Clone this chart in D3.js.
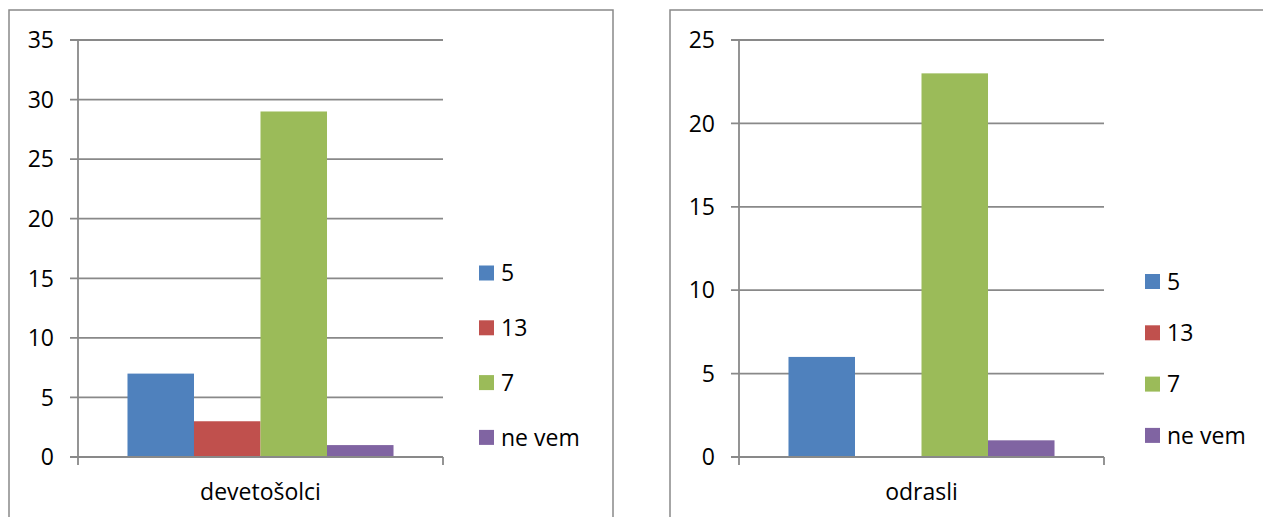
<!DOCTYPE html>
<html>
<head>
<meta charset="utf-8">
<script src="https://d3js.org/d3.v7.min.js"></script>
<style>
  body { margin: 0; background: #fff; }
  text { font-family: "Open Sans", sans-serif; fill: #000; }
</style>
</head>
<body>
<svg width="1263" height="517"></svg>
<script>
// series names (legend) and colours
var series = ["5", "13", "7", "ne vem"];
var colors = ["#4F81BD", "#C0504D", "#9BBB59", "#8064A2"];

// left chart
var leftCategory = "devetošolci";
var leftValues = [7, 3, 29, 1];
var leftTicks = [0, 5, 10, 15, 20, 25, 30, 35];

// right chart
var rightCategory = "odrasli";
var rightValues = [6, 0, 23, 1];
var rightTicks = [0, 5, 10, 15, 20, 25];

var svg = d3.select("svg");
var grey = "#898989";
var fs = "23px";

function drawPanel(opt) {
  var g = svg.append("g");

  // outer frame (bottom/right may run off the page)
  g.append("rect")
    .attr("x", opt.frame[0]).attr("y", opt.frame[1])
    .attr("width", opt.frame[2]).attr("height", opt.frame[3])
    .attr("fill", "none").attr("stroke", grey).attr("stroke-width", 1.5);

  var y = d3.scaleLinear().domain([0, d3.max(opt.ticks)]).range([opt.y1, opt.y0]);
  var x = d3.scaleBand().domain([opt.category]).range([opt.x0, opt.x1]).paddingOuter(0.186);
  var xs = d3.scaleBand().domain(series).range([0, x.bandwidth()]);

  // gridlines
  g.selectAll(".grid").data(opt.ticks).join("line")
    .attr("x1", opt.x0 - 8).attr("x2", opt.x1)
    .attr("y1", d => y(d)).attr("y2", d => y(d))
    .attr("stroke", grey).attr("stroke-width", 1.8);

  // y axis line
  g.append("line")
    .attr("x1", opt.x0).attr("x2", opt.x0)
    .attr("y1", opt.y0).attr("y2", opt.y1 + 8)
    .attr("stroke", grey).attr("stroke-width", 1.8);
  // right category tick
  g.append("line")
    .attr("x1", opt.x1).attr("x2", opt.x1)
    .attr("y1", opt.y1).attr("y2", opt.y1 + 8)
    .attr("stroke", grey).attr("stroke-width", 1.8);

  // y tick labels
  g.selectAll(".tl").data(opt.ticks).join("text")
    .attr("x", opt.x0 - 24).attr("y", d => y(d))
    .attr("dy", "0.36em")
    .attr("text-anchor", "end")
    .style("font-size", fs)
    .text(d => d);

  // bars
  g.selectAll(".bar").data(opt.values).join("rect")
    .attr("x", (d, i) => x(opt.category) + xs(series[i]))
    .attr("width", xs.bandwidth())
    .attr("y", d => y(d))
    .attr("height", d => y(0) - y(d))
    .attr("fill", (d, i) => colors[i]);

  // redraw baseline over bars
  g.append("line")
    .attr("x1", opt.x0 - 8).attr("x2", opt.x1)
    .attr("y1", y(0)).attr("y2", y(0))
    .attr("stroke", grey).attr("stroke-width", 1.8);

  // category label
  g.append("text")
    .attr("x", x(opt.category) + x.bandwidth() / 2)
    .attr("y", 500)
    .attr("text-anchor", "middle")
    .style("font-size", fs)
    .text(opt.category);

  // legend
  var lg = g.selectAll(".lg").data(series).join("g")
    .attr("transform", (d, i) => "translate(" + opt.legX + "," + (opt.legY + i * opt.legStep) + ")");
  lg.append("rect")
    .attr("x", 0).attr("y", -7.5).attr("width", 15).attr("height", 15)
    .attr("fill", (d, i) => colors[i]);
  lg.append("text")
    .attr("x", 22).attr("dy", "0.36em")
    .style("font-size", fs)
    .text(d => d);
}

drawPanel({
  frame: [9, 10, 604, 530],
  x0: 78, x1: 443, y0: 40, y1: 457,
  ticks: leftTicks, values: leftValues, category: leftCategory,
  legX: 479, legY: 273, legStep: 54.8
});

drawPanel({
  frame: [670, 10, 640, 530],
  x0: 739, x1: 1104, y0: 40, y1: 457,
  ticks: rightTicks, values: rightValues, category: rightCategory,
  legX: 1145, legY: 281.5, legStep: 51.3
});
</script>
</body>
</html>
